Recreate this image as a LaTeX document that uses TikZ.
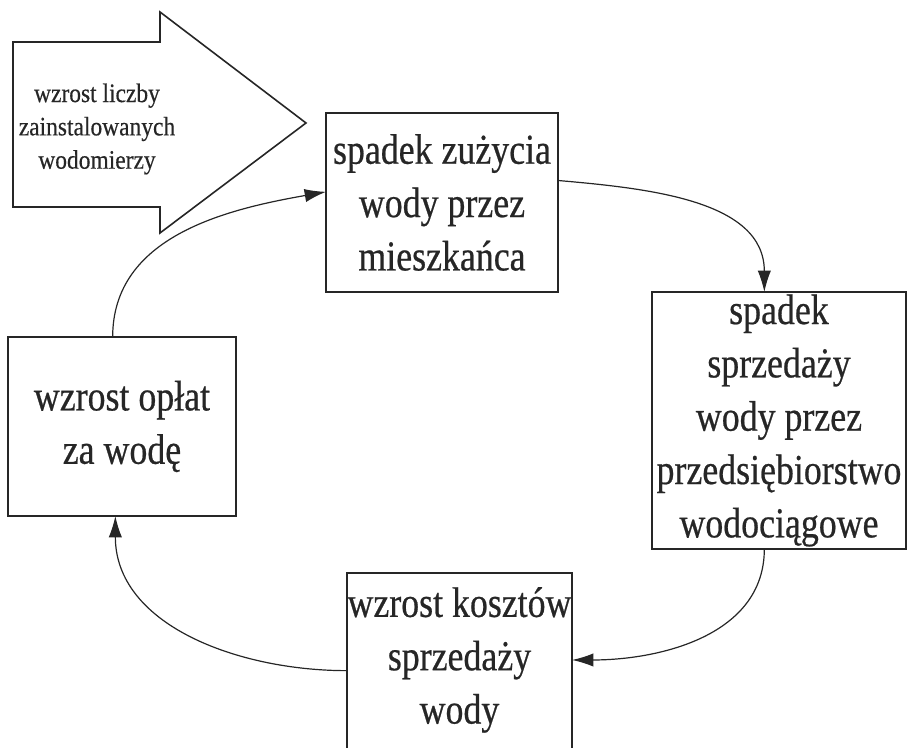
\documentclass[tikz,border=0pt]{standalone}
\usepackage{fontspec}
\setmainfont{Liberation Serif}
\newfontfamily\bigfont[FakeStretch=0.84,FakeBold=0.5]{Liberation Serif}
\newfontfamily\smallfont[FakeStretch=0.88,FakeBold=0.4]{Liberation Serif}
\usetikzlibrary{arrows.meta}
\tikzset{
  box/.style={shape=rectangle,draw,line width=1.2pt,inner sep=0pt,outer sep=0pt,align=center,font=\bigfont\fontsize{32}{40}\selectfont},
  flow/.style={-{Latex[length=16pt,width=10pt]},line width=0.9pt}
}
\begin{document}
\begin{tikzpicture}[x=0.75pt,y=0.75pt,black!85]
\useasboundingbox (0,0) rectangle (908,748);
\clip (0,0) rectangle (908,748);
\draw[line width=1.2pt] (13,706) -- (160,706) -- (160,736) -- (306,625) -- (160,515) -- (160,541) -- (13,541) -- cycle;
\node[font=\smallfont\fontsize{20}{25}\selectfont,align=center](WL) at (97,619){wzrost liczby\\zainstalowanych\\wodomierzy};
\node[box,minimum width=174pt,minimum height=134.25pt](SZ) at (442,545.5){spadek zużycia\\wody przez\\mieszkańca};
\node[box,minimum width=190.5pt,minimum height=192.75pt](SS) at (779,327.5){spadek\\sprzedaży\\wody przez\\przedsiębiorstwo\\wodociągowe};
\node[box,draw=none,minimum width=168.75pt,minimum height=130.5pt](WK) at (459.5,88){wzrost kosztów\\sprzedaży\\wody};
\draw[line width=1.2pt] ([yshift=-60pt]WK.south west) -- (WK.north west) -- (WK.north east) -- ([yshift=-60pt]WK.south east);
\node[box,minimum width=171pt,minimum height=134.25pt](WO) at (122,321.5){wzrost opłat\\za wodę};
\draw[flow] ([yshift=16.5pt]SZ.east) to[out=-5,in=90] ([xshift=-11pt]SS.north);
\draw[flow] ([xshift=-11pt]SS.south) to[out=-90,in=0] (WK.east);
\draw[flow] ([yshift=-8pt]WK.west) to[out=180,in=-90] ([xshift=-5pt]WO.south);
\draw[flow] ([xshift=-7pt]WO.north) to[out=90,in=190] ([yshift=8pt]SZ.west);
\end{tikzpicture}
\end{document}
